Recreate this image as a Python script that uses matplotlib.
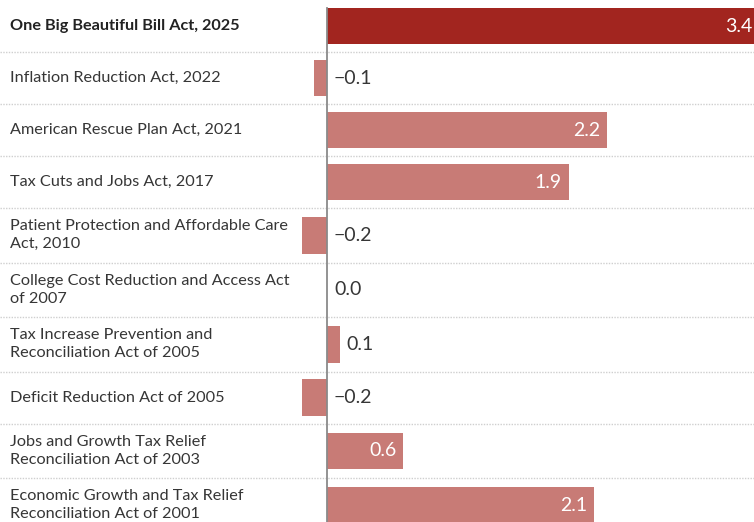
import matplotlib
matplotlib.use("Agg")
import matplotlib.pyplot as plt

categories = [
    "One Big Beautiful Bill Act, 2025",
    "Inflation Reduction Act, 2022",
    "American Rescue Plan Act, 2021",
    "Tax Cuts and Jobs Act, 2017",
    "Patient Protection and Affordable Care\nAct, 2010",
    "College Cost Reduction and Access Act\nof 2007",
    "Tax Increase Prevention and\nReconciliation Act of 2005",
    "Deficit Reduction Act of 2005",
    "Jobs and Growth Tax Relief\nReconciliation Act of 2003",
    "Economic Growth and Tax Relief\nReconciliation Act of 2001",
]
values = [3.4, -0.1, 2.2, 1.9, -0.2, 0.0, 0.1, -0.2, 0.6, 2.1]
value_labels = ["3.4", "\u22120.1", "2.2", "1.9", "\u22120.2", "0.0", "0.1", "\u22120.2", "0.6", "2.1"]
highlight = [True] + [False] * 9

DARK = "#a2251f"
LIGHT = "#c87b76"
TEXT = "#363636"

W, H = 754, 522
fig = plt.figure(figsize=(W / 100, H / 100), dpi=100)
ax = fig.add_axes([0, 0, 1, 1])

px_per_unit = 127.3
zero_px = 327
ax.set_xlim(-zero_px / px_per_unit, (W - zero_px) / px_per_unit)
ax.set_ylim(H, 0)
ax.axis("off")

# row layout: rows with two-line labels are a bit taller
single_h, double_h = 52.0, 54.5
bar_h = 36.5
tops = []
centers = []
y = 0.0
for c in categories:
    h = double_h if "\n" in c else single_h
    tops.append(y)
    centers.append(y + h / 2)
    y += h

colors = [DARK if hl else LIGHT for hl in highlight]
ax.barh(centers, values, height=bar_h, color=colors, zorder=2)

# separators
for t in tops[1:]:
    ax.axhline(t, color="#cfcfcf", lw=1.0, ls=(0, (1, 1)), zorder=1)

# zero line
ax.plot([0, 0], [centers[0] - bar_h / 2, H], color="#8a8a8a", lw=1.3, zorder=3)

pad = 7 / px_per_unit
fam = ["Lato", "DejaVu Sans"]
for c, yc, hl in zip(categories, centers, highlight):
    ax.text(10 / W, yc, c, transform=ax.get_yaxis_transform(), ha="left", va="center",
            fontsize=11.7, color="#222222" if hl else TEXT, family=fam,
            fontweight="bold" if hl else "normal", linespacing=1.32)

for v, lab, yc in zip(values, value_labels, centers):
    if v >= 0.5:
        ax.text(v - pad, yc, lab, ha="right", va="center", fontsize=14,
                color="white", family=fam, zorder=4)
    else:
        ax.text(max(v, 0) + pad, yc, lab, ha="left", va="center", fontsize=14,
                color=TEXT, family=fam, zorder=4)

fig.savefig("out.png", dpi=100)
